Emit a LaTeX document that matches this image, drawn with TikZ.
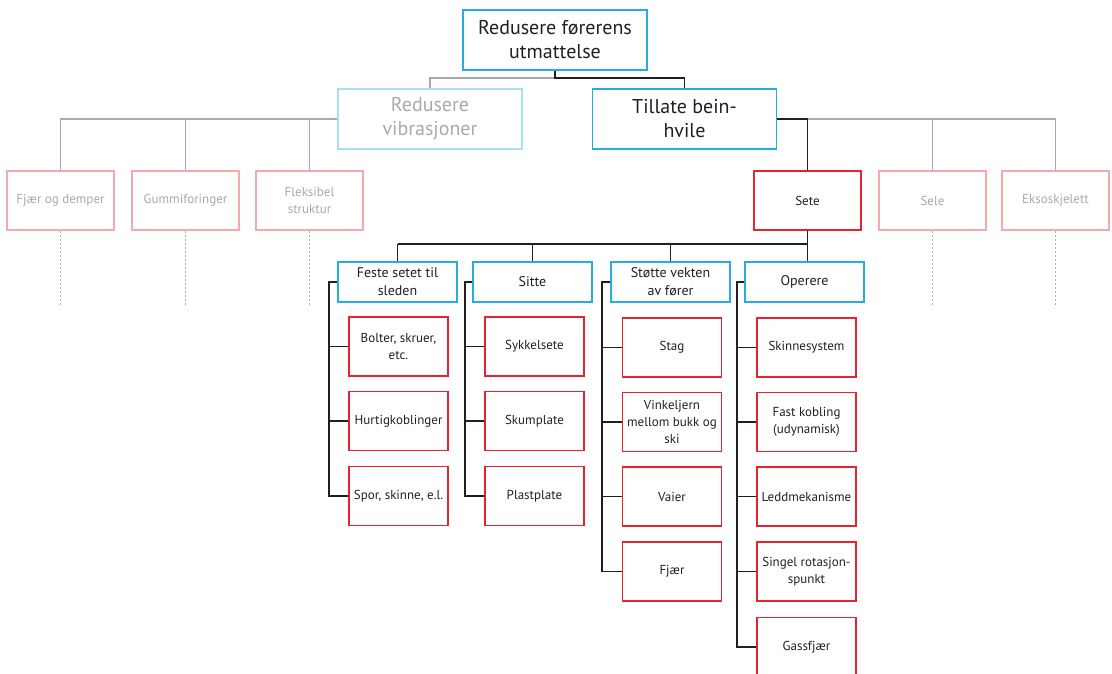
\documentclass[tikz,border=0pt]{standalone}
\usepackage{fontspec}
\setmainfont{PT Sans}
\definecolor{cblue}{HTML}{29ABE2}
\definecolor{cbluefade}{HTML}{A9DDF3}
\definecolor{cred}{HTML}{E5242F}
\definecolor{credfade}{HTML}{F6A9AD}
\definecolor{cgray}{HTML}{A7A9AC}
\definecolor{cdark}{HTML}{231F20}
\begin{document}
\begin{tikzpicture}[x=1pt,y=-1pt,
  base/.style={draw, line width=1.3pt, align=center, inner sep=0pt, text=cdark},
  goal/.style={base, draw=cblue, minimum width=184pt, minimum height=60pt,
    font=\fontsize{20}{24}\selectfont},
  goalfade/.style={goal, draw=cbluefade, text=cgray},
  sub/.style={base, draw=cblue, minimum width=119pt, minimum height=40pt,
    font=\fontsize{14}{18}\selectfont},
  mid/.style={base, draw=cred, minimum width=107pt, minimum height=59pt,
    font=\fontsize{13}{17}\selectfont},
  midfade/.style={mid, draw=credfade, text=cgray},
  leaf/.style={base, draw=cred, minimum width=99pt, minimum height=59pt,
    font=\fontsize{13}{17}\selectfont},
  link/.style={draw=cdark, line width=1.3pt},
  linkfade/.style={draw=cgray, line width=1.3pt},
  stub/.style={draw=cgray, line width=1.2pt, dash pattern=on 2pt off 2pt}]
\useasboundingbox (0,0) rectangle (1112,673);

% goal levels
\node[goal] (top) at (555,40) {Redusere førerens\\utmattelse};
\node[goalfade] (vib) at (430,119) {Redusere\\vibrasjoner};
\node[goal] (till) at (684.5,119) {Tillate bein-\\hvile};

% third level
\node[midfade] (fjaer) at (60.5,200.5) {Fjær og demper};
\node[midfade] (gummi) at (185.5,200.5) {Gummiforinger};
\node[midfade] (fleks) at (309.5,200.5) {Fleksibel\\struktur};
\node[mid] (sete) at (807.5,200.5) {Sete};
\node[midfade] (sele) at (932.5,200.5) {Sele};
\node[midfade] (ekso) at (1055.5,200.5) {Eksoskjelett};

% sub-functions of the seat
\node[sub] (feste) at (397.5,282) {Feste setet til\\sleden};
\node[sub] (sitte) at (532.5,282) {Sitte};
\node[sub] (stotte) at (670.5,282) {Støtte vekten\\av fører};
\node[sub] (oper) at (804.5,282) {Operere};

% solutions
\node[leaf] (f1) at (398.5,346.5) {Bolter, skruer,\\etc.};
\node[leaf] (f2) at (398.5,421) {Hurtigkoblinger};
\node[leaf] (f3) at (398.5,496) {Spor, skinne, e.l.};
\node[leaf] (s1) at (534.5,346.5) {Sykkelsete};
\node[leaf] (s2) at (534.5,421) {Skumplate};
\node[leaf] (s3) at (534.5,496) {Plastplate};
\node[leaf] (v1) at (672,347.5) {Stag};
\node[leaf] (v2) at (672,422) {Vinkeljern\\mellom bukk og\\ski};
\node[leaf] (v3) at (672,496.5) {Vaier};
\node[leaf] (v4) at (672,571.5) {Fjær};
\node[leaf] (o1) at (806.5,347.5) {Skinnesystem};
\node[leaf] (o2) at (806.5,422) {Fast kobling\\(udynamisk)};
\node[leaf] (o3) at (806.5,496.5) {Leddmekanisme};
\node[leaf] (o4) at (806.5,571.5) {Singel rotasjon-\\spunkt};
\node[leaf] (o5) at (806.5,647) {Gassfjær};

% helper coordinates for the bus lines
\coordinate (topbus) at (0,78);
\coordinate (setebus) at (0,244);
\coordinate (spF) at (329,0);
\coordinate (spS) at (465,0);
\coordinate (spV) at (602,0);
\coordinate (spO) at (737,0);

% goal to second level
\draw[linkfade] (top.south |- topbus) -| (vib.north);
\draw[link] (top.south) -- (top.south |- topbus) -| (till.north);

% second to third level
\draw[linkfade] (vib.west) -| (fjaer.north);
\draw[linkfade] (gummi.north |- vib.west) -- (gummi.north);
\draw[linkfade] (fleks.north |- vib.west) -- (fleks.north);
\draw[linkfade] (till.east -| sete.north) -| (ekso.north);
\draw[linkfade] (sele.north |- till.east) -- (sele.north);
\draw[link] (till.east) -| (sete.north);

% unexplored branches
\foreach \n in {fjaer,gummi,fleks,sele,ekso}
  \draw[stub] (\n.south) -- ++(0,75);

% seat to sub-functions
\draw[link] (sete.south) -- (oper.north -| sete.south);
\draw[link] (feste.north |- setebus) -- (sete.south |- setebus);
\draw[link] (feste.north |- setebus) -- (feste.north);
\draw[link] (sitte.north |- setebus) -- (sitte.north);
\draw[link] (stotte.north |- setebus) -- (stotte.north);

% sub-functions to solutions
\draw[link] (feste.west) -- (feste.west -| spF) |- (f3.west);
\draw[link] (f1.west -| spF) -- (f1.west);
\draw[link] (f2.west -| spF) -- (f2.west);
\draw[link] (sitte.west) -- (sitte.west -| spS) |- (s3.west);
\draw[link] (s1.west -| spS) -- (s1.west);
\draw[link] (s2.west -| spS) -- (s2.west);
\draw[link] (stotte.west) -- (stotte.west -| spV) |- (v4.west);
\draw[link] (v1.west -| spV) -- (v1.west);
\draw[link] (v2.west -| spV) -- (v2.west);
\draw[link] (v3.west -| spV) -- (v3.west);
\draw[link] (oper.west) -- (oper.west -| spO) |- (o5.west);
\draw[link] (o1.west -| spO) -- (o1.west);
\draw[link] (o2.west -| spO) -- (o2.west);
\draw[link] (o3.west -| spO) -- (o3.west);
\draw[link] (o4.west -| spO) -- (o4.west);
\end{tikzpicture}
\end{document}
